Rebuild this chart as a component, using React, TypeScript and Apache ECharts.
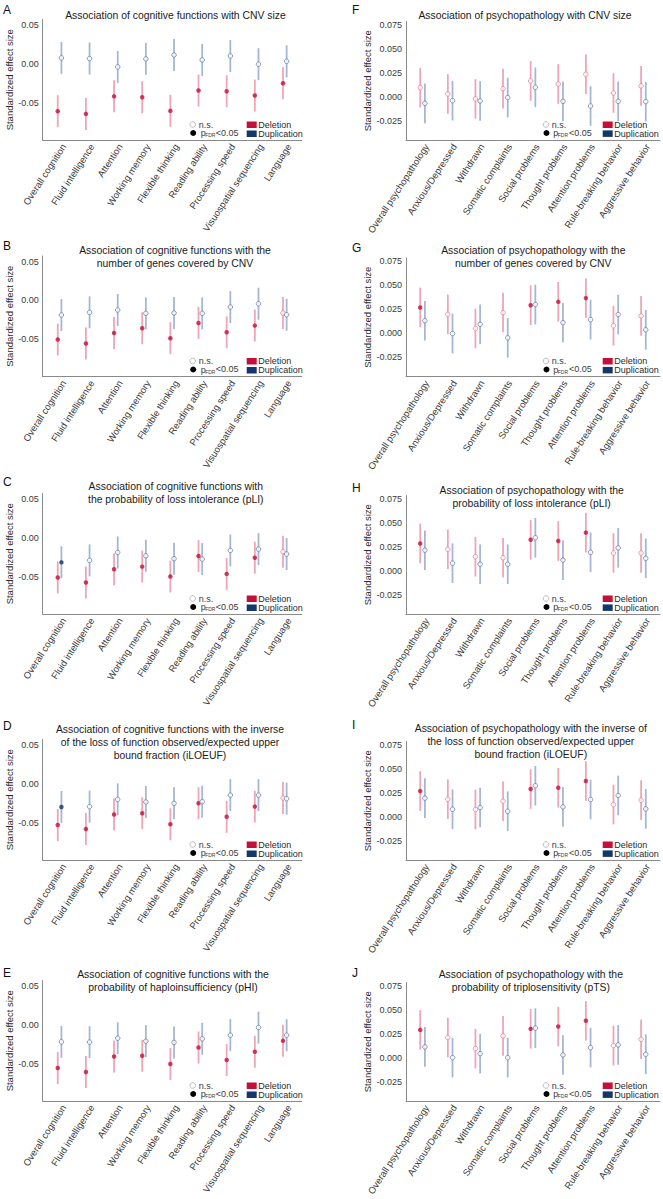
import React, { useEffect, useRef } from "react";
import * as echarts from "echarts";

// ---------- categories ----------
const cognitionCats = [
  "Overall cognition", "Fluid intelligence", "Attention", "Working memory", "Flexible thinking",
  "Reading ability", "Processing speed", "Visuospatial sequencing", "Language",
];
const psychCats = [
  "Overall psychopathology", "Anxious/Depressed", "Withdrawn", "Somatic complaints", "Social problems",
  "Thought problems", "Attention problems", "Rule-breaking behavior", "Aggressive behavior",
];

// ---------- tick labels ----------
const leftTicks = [-0.05, 0, 0.05];
const rightTicks = [-0.025, 0, 0.025, 0.05, 0.075];

// 95% CI half-width
const ciHalfWidth = 0.0207;

// ---------- data (estimates; significance 1 = pFDR<0.05) ----------
const aDel = [-0.0612, -0.0647, -0.042, -0.0431, -0.0608, -0.0345, -0.0353, -0.0409, -0.025];
const aDelSig = [1, 1, 1, 1, 1, 1, 1, 1, 1];
const aDup = [0.0078, 0.0069, -0.0039, 0.0065, 0.0116, 0.0052, 0.0103, -0.0004, 0.0034];
const aDupSig = [0, 0, 0, 0, 0, 0, 0, 0, 0];

const bDel = [-0.0506, -0.0558, -0.0421, -0.0361, -0.0489, -0.0292, -0.0412, -0.0326, -0.0163];
const bDelSig = [1, 1, 1, 1, 1, 1, 1, 1, 0];
const bDup = [-0.0189, -0.0155, -0.0124, -0.0167, -0.0163, -0.0167, -0.0086, -0.0043, -0.0185];
const bDupSig = [0, 0, 0, 0, 0, 0, 0, 0, 0];

const cDel = [-0.0513, -0.0577, -0.0406, -0.0372, -0.05, -0.0235, -0.0466, -0.0256, -0.0179];
const cDelSig = [1, 1, 1, 1, 1, 1, 1, 1, 0];
const cDup = [-0.0316, -0.0291, -0.0188, -0.0231, -0.0269, -0.0274, -0.0162, -0.0145, -0.0209];
const cDupSig = [1, 0, 0, 0, 0, 0, 0, 0, 0];

const dDel = [-0.0532, -0.0583, -0.0396, -0.0379, -0.0523, -0.0251, -0.0426, -0.0294, -0.0183];
const dDelSig = [1, 1, 1, 1, 1, 1, 1, 1, 0];
const dDup = [-0.0298, -0.0294, -0.02, -0.0234, -0.0251, -0.023, -0.0145, -0.0145, -0.0191];
const dDupSig = [1, 0, 0, 0, 0, 0, 0, 0, 0];

const eDel = [-0.0558, -0.0609, -0.0408, -0.0399, -0.0506, -0.0292, -0.0455, -0.0348, -0.0206];
const eDelSig = [1, 1, 1, 1, 1, 1, 1, 1, 1];
const eDup = [-0.0219, -0.0223, -0.0172, -0.021, -0.0227, -0.018, -0.0133, -0.0034, -0.0133];
const eDupSig = [0, 0, 0, 0, 0, 0, 0, 0, 0];

const fDel = [0.0094, 0.0028, -0.0024, 0.0084, 0.0164, 0.0132, 0.0234, 0.0038, 0.0112];
const fDelSig = [0, 0, 0, 0, 0, 0, 0, 0, 0];
const fDup = [-0.007, -0.0042, -0.0045, -0.001, 0.0098, -0.0049, -0.0098, -0.0049, -0.0052];
const fDupSig = [0, 0, 0, 0, 0, 0, 0, 0, 0];

const gDel = [0.0268, 0.0197, 0.0049, 0.0215, 0.0292, 0.0327, 0.0366, 0.0077, 0.018];
const gDelSig = [1, 0, 0, 0, 1, 1, 1, 0, 0];
const gDup = [0.013, -0.0004, 0.0092, -0.0049, 0.0299, 0.0109, 0.0141, 0.0194, 0.0035];
const gDupSig = [0, 0, 0, 0, 0, 0, 0, 0, 0];

const hDel = [0.0284, 0.0223, 0.0145, 0.0135, 0.0323, 0.0309, 0.0397, 0.0184, 0.0184];
const hDelSig = [1, 0, 0, 0, 1, 1, 1, 0, 0];
const hDup = [0.0213, 0.0078, 0.0067, 0.0067, 0.0344, 0.011, 0.0191, 0.0238, 0.0128];
const hDupSig = [0, 0, 0, 0, 0, 0, 0, 0, 0];

const iDel = [0.0267, 0.0182, 0.0074, 0.0161, 0.0288, 0.0302, 0.0372, 0.0126, 0.0172];
const iDelSig = [1, 0, 0, 0, 1, 1, 1, 0, 0];
const iDup = [0.0193, 0.0077, 0.0095, 0.0056, 0.0323, 0.0102, 0.0179, 0.0221, 0.0081];
const iDupSig = [0, 0, 0, 0, 0, 0, 0, 0, 0];

const jDel = [0.029, 0.021, 0.0094, 0.0227, 0.0301, 0.0325, 0.0385, 0.0126, 0.0192];
const jDelSig = [1, 0, 0, 0, 1, 1, 1, 0, 0];
const jDup = [0.0112, 0.0, 0.0042, 0.0, 0.0308, 0.0028, 0.0105, 0.0133, 0.0035];
const jDupSig = [0, 0, 0, 0, 0, 0, 0, 0, 0];

// ---------- titles ----------
const titleA = ["Association of cognitive functions with CNV size"];
const titleB = ["Association of cognitive functions with the", "number of genes covered by CNV"];
const titleC = ["Association of cognitive functions with", "the probability of loss intolerance (pLI)"];
const titleD = [
  "Association of cognitive functions with the inverse",
  "of the loss of function observed/expected upper",
  "bound fraction (iLOEUF)",
];
const titleE = ["Association of cognitive functions with the", "probability of haploinsufficiency (pHI)"];
const titleF = ["Association of psychopathology with CNV size"];
const titleG = ["Association of psychopathology with the", "number of genes covered by CNV"];
const titleH = ["Association of psychopathology with the", "probability of loss intolerance (pLI)"];
const titleI = [
  "Association of psychopathology with the inverse of",
  "the loss of function observed/expected upper",
  "bound fraction (iLOEUF)",
];
const titleJ = ["Association of psychopathology with the", "probability of triplosensitivity (pTS)"];

// ---------- layout / style ----------
const FONT = "Liberation Sans, Arial, Helvetica, sans-serif";
const COL_DEL = "#c40f3b";
const COL_DEL_NS = "#e6849c";
const COL_DEL_BAR = "#eea5b8";
const COL_DUP = "#13376b";
const COL_DUP_NS = "#6b7fab";
const COL_DUP_BAR = "#a6b7d3";
const AXIS_COL = "#8a8a8a";

const cols = [
  {
    x0: 42.7, x1: 301.7, h: 120.5, yMin: -0.0985, yMax: 0.0575, ticks: leftTicks, dec: 2,
    nameGap: 25, dodge: 0.065, letterX: 3,
    lg: { circ: 109, ns: 103, p: 101, fdr: 96.5, lt: 86, sq: 55, lab: 43.5 },
  },
  {
    x0: 406, x1: 660, h: 118.5, yMin: -0.0453, yMax: 0.0785, ticks: rightTicks, dec: 3,
    nameGap: 31, dodge: 0.085, letterX: 352,
    lg: { circ: 114, ns: 108.3, p: 106.7, fdr: 102.2, lt: 91, sq: 57.3, lab: 45.7 },
  },
];
const bottoms = [140, 376.5, 614, 860, 1101];

const panels = [
  { letter: "A", title: titleA, cats: cognitionCats, del: aDel, delSig: aDelSig, dup: aDup, dupSig: aDupSig, col: 0, row: 0, tx: 175.5, ty: 15, ly: 3.5 },
  { letter: "B", title: titleB, cats: cognitionCats, del: bDel, delSig: bDelSig, dup: bDup, dupSig: bDupSig, col: 0, row: 1, tx: 175, ty: 250, ly: 240 },
  { letter: "C", title: titleC, cats: cognitionCats, del: cDel, delSig: cDelSig, dup: cDup, dupSig: cDupSig, col: 0, row: 2, tx: 175.8, ty: 486, ly: 476 },
  { letter: "D", title: titleD, cats: cognitionCats, del: dDel, delSig: dDelSig, dup: dDup, dupSig: dDupSig, col: 0, row: 3, tx: 170, ty: 729, ly: 720 },
  { letter: "E", title: titleE, cats: cognitionCats, del: eDel, delSig: eDelSig, dup: eDup, dupSig: eDupSig, col: 0, row: 4, tx: 173, ty: 974.3, ly: 966.7 },
  { letter: "F", title: titleF, cats: psychCats, del: fDel, delSig: fDelSig, dup: fDup, dupSig: fDupSig, col: 1, row: 0, tx: 525, ty: 15, ly: 4 },
  { letter: "G", title: titleG, cats: psychCats, del: gDel, delSig: gDelSig, dup: gDup, dupSig: gDupSig, col: 1, row: 1, tx: 533.3, ty: 250, ly: 242 },
  { letter: "H", title: titleH, cats: psychCats, del: hDel, delSig: hDelSig, dup: hDup, dupSig: hDupSig, col: 1, row: 2, tx: 531.7, ty: 490, ly: 481.5 },
  { letter: "I", title: titleI, cats: psychCats, del: iDel, delSig: iDelSig, dup: iDup, dupSig: iDupSig, col: 1, row: 3, tx: 530.8, ty: 728.3, ly: 719 },
  { letter: "J", title: titleJ, cats: psychCats, del: jDel, delSig: jDelSig, dup: jDup, dupSig: jDupSig, col: 1, row: 4, tx: 530.8, ty: 974.3, ly: 966.7 },
];

function txt(x: number, y: number, text: string, size: number, fill: string, align = "left", valign = "middle", extra: any = {}) {
  return {
    type: "text",
    x,
    y,
    z: 100,
    silent: true,
    style: {
      text,
      fontSize: size,
      fontFamily: FONT,
      fill,
      align,
      verticalAlign: valign,
      textAlign: align,
      textVerticalAlign: valign,
      ...extra,
    },
  };
}

function barRenderer(color: string) {
  return (params: any, api: any) => {
    const x = api.value(0);
    const p1 = api.coord([x, api.value(1)]);
    const p2 = api.coord([x, api.value(2)]);
    return {
      type: "line",
      shape: { x1: p1[0], y1: p1[1], x2: p2[0], y2: p2[1] },
      style: { stroke: color, lineWidth: 1.8 },
    };
  };
}

function buildOption() {
  const grid: any[] = [];
  const xAxis: any[] = [];
  const yAxis: any[] = [];
  const series: any[] = [];
  const elements: any[] = [];

  panels.forEach((p, i) => {
    const c = cols[p.col];
    const B = bottoms[p.row];
    const R = c.x1;
    const top = B - c.h;
    const catIdx = p.cats.map((_, k) => k);

    grid.push({ left: c.x0, top, width: c.x1 - c.x0, height: c.h });

    xAxis.push({
      gridIndex: i,
      type: "value",
      min: -0.6,
      max: 8.6,
      axisLine: { show: true, onZero: false, lineStyle: { color: AXIS_COL, width: 1 } },
      axisTick: { show: false },
      splitLine: { show: false },
      axisLabel: {
        customValues: catIdx,
        formatter: (v: number) => p.cats[Math.round(v)] ?? "",
        rotate: 57,
        margin: 2,
        verticalAlign: "top",
        fontSize: 9.5,
        fontFamily: FONT,
        color: "#3a3a3a",
        showMinLabel: true,
        showMaxLabel: true,
      },
    });

    yAxis.push({
      gridIndex: i,
      type: "value",
      min: c.yMin,
      max: c.yMax,
      name: "Standardized effect size",
      nameLocation: "middle",
      nameGap: c.nameGap,
      nameTextStyle: { fontSize: 9.5, fontFamily: FONT, color: "#2a2a2a" },
      axisLine: { show: true, onZero: false, lineStyle: { color: AXIS_COL, width: 1 } },
      axisTick: { show: false },
      splitLine: { show: false },
      axisLabel: {
        customValues: c.ticks,
        formatter: (v: number) => v.toFixed(c.dec),
        margin: 4,
        fontSize: 9,
        fontFamily: FONT,
        color: "#3a3a3a",
        showMinLabel: true,
        showMaxLabel: true,
      },
    });

    series.push({
      type: "custom",
      xAxisIndex: i,
      yAxisIndex: i,
      silent: true,
      z: 1,
      renderItem: barRenderer(COL_DEL_BAR),
      encode: { x: 0, y: [1, 2] },
      data: p.del.map((v, k) => [k - c.dodge, v - ciHalfWidth, v + ciHalfWidth]),
    });
    series.push({
      type: "custom",
      xAxisIndex: i,
      yAxisIndex: i,
      silent: true,
      z: 1,
      renderItem: barRenderer(COL_DUP_BAR),
      encode: { x: 0, y: [1, 2] },
      data: p.dup.map((v, k) => [k + c.dodge, v - ciHalfWidth, v + ciHalfWidth]),
    });
    series.push({
      type: "scatter",
      xAxisIndex: i,
      yAxisIndex: i,
      silent: true,
      z: 3,
      symbol: "circle",
      symbolSize: 4.5,
      data: p.del.map((v, k) => ({
        value: [k - c.dodge, v],
        itemStyle: p.delSig[k]
          ? { color: COL_DEL, borderWidth: 0 }
          : { color: "#ffffff", borderColor: COL_DEL_NS, borderWidth: 1 },
      })),
    });
    series.push({
      type: "scatter",
      xAxisIndex: i,
      yAxisIndex: i,
      silent: true,
      z: 3,
      symbol: "circle",
      symbolSize: 4.5,
      data: p.dup.map((v, k) => ({
        value: [k + c.dodge, v],
        itemStyle: p.dupSig[k]
          ? { color: COL_DUP, borderWidth: 0 }
          : { color: "#ffffff", borderColor: COL_DUP_NS, borderWidth: 1 },
      })),
    });

    // panel letter
    elements.push(txt(c.letterX, p.ly, p.letter, 12, "#111111", "left", "top"));
    // title
    elements.push(
      txt(p.tx, p.ty - 6.5, p.title.join("\n"), 10.4, "#1a1a1a", "center", "top", { lineHeight: 13 })
    );

    // legend
    const L = c.lg;
    elements.push({
      type: "circle", z: 100, silent: true,
      shape: { cx: R - L.circ, cy: B - 15.5, r: 2.8 },
      style: { fill: "#ffffff", stroke: "#b5b5b5", lineWidth: 0.9 },
    });
    elements.push({
      type: "circle", z: 100, silent: true,
      shape: { cx: R - L.circ + 0.5, cy: B - 7, r: 3 },
      style: { fill: "#000000" },
    });
    elements.push(txt(R - L.ns, B - 15.5, "n.s.", 9, "#3a3a3a"));
    elements.push(txt(R - L.p, B - 7, "p", 9, "#3a3a3a"));
    elements.push(txt(R - L.fdr, B - 5, "FDR", 5, "#3a3a3a"));
    elements.push(txt(R - L.lt, B - 7.5, "<0.05", 9, "#3a3a3a"));
    elements.push({
      type: "rect", z: 100, silent: true,
      shape: { x: R - L.sq, y: B - 18.5, width: 10, height: 6.5 },
      style: { fill: COL_DEL },
    });
    elements.push({
      type: "rect", z: 100, silent: true,
      shape: { x: R - L.sq, y: B - 9.6, width: 10, height: 6.5 },
      style: { fill: COL_DUP },
    });
    elements.push(txt(R - L.lab, B - 15.2, "Deletion", 9, "#2a2a2a"));
    elements.push(txt(R - L.lab, B - 6.3, "Duplication", 9, "#2a2a2a"));
  });

  return {
    animation: false,
    backgroundColor: "#ffffff",
    grid,
    xAxis,
    yAxis,
    series,
    graphic: { elements },
  };
}

export default function App() {
  const ref = useRef<HTMLDivElement>(null);
  useEffect(() => {
    if (!ref.current) return;
    const chart = echarts.init(ref.current, undefined, { renderer: "svg" });
    chart.setOption(buildOption() as any);
    return () => chart.dispose();
  }, []);
  return (
    <div
      ref={ref}
      style={{ position: "absolute", left: 0, top: 0, width: 663, height: 1199, background: "#fff" }}
    />
  );
}
